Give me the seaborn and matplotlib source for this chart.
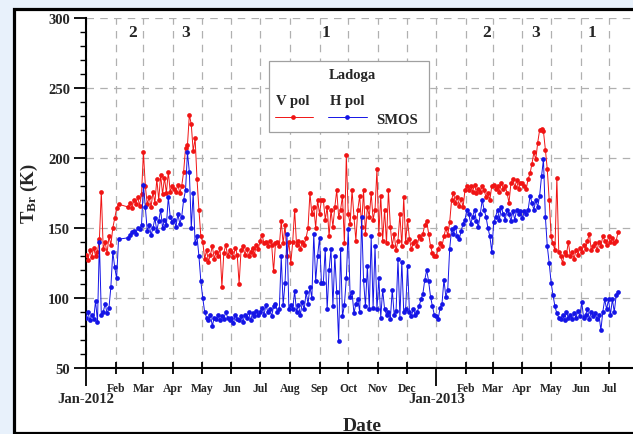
import pandas as pd
import matplotlib
matplotlib.use("Agg")
import matplotlib.pyplot as plt
import matplotlib.dates as mdates
from matplotlib.ticker import MultipleLocator
from matplotlib.patches import Rectangle
import seaborn as sns

# SMOS brightness temperatures over Lake Ladoga (K), one value every second day.
# First block: 2012-01-01 .. 2012-02-04
seg1_start = "2012-01-01"
seg1_v = [131, 127, 134, 129, 136, 130, 133, 142, 176, 135, 140, 132, 144, 138, 150, 157, 164, 167]
seg1_h = [86, 90, 84, 88, 85, 98, 83, 140, 88, 90, 96, 89, 93, 108, 133, 122, 114, 142]

# Second block: 2012-02-14 .. 2013-07-10
seg2_start = "2012-02-14"
seg2_v = [
    165, 168, 164, 170, 167, 172, 166, 174,                              # Feb 2012
    204, 180, 167, 172, 165, 176, 168, 185, 170, 188, 174, 186, 175, 190, 176, 180,  # Mar
    178, 176, 181, 175, 180, 190, 207, 209, 231, 224, 205, 214, 185, 163, 144,       # Apr
    140, 128, 134, 126, 131, 137, 128, 133, 130, 136, 108, 132, 138, 130, 134,       # May
    133, 129, 136, 131, 110, 134, 137, 131, 135, 130, 133, 136, 131, 138, 135,       # Jun
    141, 145, 139, 140, 137, 141, 138, 119, 139, 140, 137, 155, 139, 152, 130, 140,  # Jul
    125, 140, 163, 138, 141, 135, 140, 138, 143, 150, 175, 160, 165, 150, 170,       # Aug
    160, 170, 170, 156, 165, 144, 163, 151, 165, 177, 158, 163, 173, 139, 202,       # Sep
    160, 153, 177, 158, 141, 163, 173, 151, 177, 146, 165, 158, 175, 156, 163, 192,  # Oct
    146, 173, 141, 163, 139, 177, 151, 137, 146, 134, 141, 160, 137, 172, 140,       # Nov
    156, 142, 135, 139, 141, 137, 144, 142, 146, 152, 155, 146, 137, 132, 130,       # Dec
    130, 135, 139, 137, 144, 150, 145, 154, 170, 175, 168, 172, 166, 171, 165, 177,  # Jan 2013
    180, 177, 180, 176, 181, 175, 178, 176, 180, 177, 172, 175, 170, 180,            # Feb
    181, 178, 180, 176, 182, 178, 180, 175, 168, 182, 185, 179, 184, 178, 182,       # Mar
    182, 180, 178, 185, 189, 196, 204, 199, 211, 220, 221, 219, 206, 192, 170,       # Apr
    144, 139, 134, 186, 133, 130, 125, 133, 131, 140, 130, 133, 128, 134, 131, 136,  # May
    133, 138, 135, 141, 146, 134, 137, 139, 134, 140, 137, 144, 141, 138, 144,       # Jun
    140, 143, 139, 141, 147,                                                         # Jul
]
seg2_h = [
    143, 145, 147, 148, 146, 150, 149, 152,
    181, 165, 148, 152, 145, 150, 157, 148, 155, 163, 150, 156, 152, 172, 158, 154,
    156, 151, 160, 153, 158, 170, 177, 204, 190, 150, 175, 139, 144, 130, 112,
    100, 90, 86, 84, 88, 80, 86, 85, 88, 84, 87, 85, 90, 86, 84,
    86, 82, 88, 85, 84, 87, 83, 88, 86, 90, 84, 89, 87, 91, 88,
    90, 93, 88, 95, 90, 92, 87, 94, 96, 90, 92, 130, 95, 111, 146, 92,
    95, 92, 105, 90, 95, 88, 97, 92, 104, 96, 108, 100, 146, 112, 130,
    143, 111, 111, 135, 92, 120, 135, 94, 130, 104, 69, 135, 87, 95, 114,
    149, 101, 104, 89, 96, 99, 90, 158, 113, 94, 123, 92, 144, 93, 137, 92,
    114, 86, 106, 92, 88, 90, 85, 106, 88, 91, 128, 86, 126, 90, 92,
    123, 90, 87, 92, 88, 90, 94, 99, 103, 113, 120, 112, 101, 94, 88,
    87, 85, 93, 96, 113, 101, 106, 135, 149, 146, 151, 144, 142, 148, 153, 156,
    163, 160, 153, 158, 163, 155, 151, 160, 170, 163, 158, 150, 144, 133,
    154, 158, 163, 156, 165, 160, 156, 163, 160, 155, 162, 156, 163, 160, 162,
    157, 162, 160, 163, 173, 168, 163, 170, 165, 173, 187, 199, 158, 137, 125,
    111, 102, 94, 89, 86, 85, 88, 84, 90, 86, 88, 85, 89, 86, 91, 87,
    97, 86, 88, 92, 85, 90, 87, 89, 85, 88, 77, 90, 99, 92, 99,
    88, 99, 90, 102, 104,
]

# Ice-regime labels along the top of the panel
phase_labels = ["2", "3", "1", "2", "3", "1"]
phase_dates = ["2012-02-19", "2012-04-14", "2012-09-08", "2013-02-23", "2013-04-15", "2013-06-13"]

dates = pd.DatetimeIndex(
    list(pd.date_range(seg1_start, periods=len(seg1_v), freq="2D"))
    + list(pd.date_range(seg2_start, periods=len(seg2_v), freq="2D"))
)
df = pd.DataFrame({"date": dates, "V": seg1_v + seg2_v, "H": seg1_h + seg2_h})

sns.set_style("white")
plt.rcParams["font.family"] = ["Liberation Serif", "DejaVu Serif"]
plt.rcParams["font.weight"] = "bold"
plt.rcParams["mathtext.fontset"] = "custom"
plt.rcParams["mathtext.rm"] = "Liberation Serif:bold"
plt.rcParams["mathtext.bf"] = "Liberation Serif:bold"
plt.rcParams["mathtext.it"] = "Liberation Serif:bold:italic"

W, H = 633, 435
fig = plt.figure(figsize=(W / 100, H / 100), dpi=100)
fig.patch.set_facecolor("#e8f1fb")

# white panel with heavy black frame, kept beneath the axes
frame = Rectangle((13.5 / W, 1.5 / H), 1.2, (433.5 - 9.5) / H, transform=fig.transFigure,
                  facecolor="white", edgecolor="black", linewidth=2.3, zorder=-10)
fig.patches.append(frame)

ax_w = 552.2
ax = fig.add_axes([86 / W, 66 / H, ax_w / W, 350 / H])
ax.set_zorder(1)
ax.set_facecolor("none")

red = "#f01414"
blue = "#1414e6"
sns.lineplot(data=df, x="date", y="V", ax=ax, color=red, marker="o", markersize=3.4,
             markeredgewidth=0, linewidth=0.7, estimator=None, legend=False, zorder=3)
sns.lineplot(data=df, x="date", y="H", ax=ax, color=blue, marker="o", markersize=3.4,
             markeredgewidth=0, linewidth=0.7, estimator=None, legend=False, zorder=4)

ax.set_xlim(pd.Timestamp("2012-01-01"), pd.Timestamp("2013-07-31"))
ax.set_ylim(50, 300)

ax.xaxis.set_major_locator(mdates.MonthLocator(bymonth=1))
ax.xaxis.set_major_formatter(mdates.DateFormatter("%b-%Y"))
ax.xaxis.set_minor_locator(mdates.MonthLocator(bymonth=range(2, 13)))
ax.xaxis.set_minor_formatter(mdates.DateFormatter("%b"))
ax.yaxis.set_major_locator(MultipleLocator(50))
ax.yaxis.set_minor_locator(MultipleLocator(10))

grid_kw = dict(color="#b0b0b0", linestyle=(0, (6, 5)), linewidth=0.9)
ax.grid(True, axis="x", which="both", **grid_kw)
ax.grid(True, axis="y", which="major", **grid_kw)
ax.set_axisbelow(True)

for side in ("top", "right"):
    ax.spines[side].set_visible(False)
for side in ("left", "bottom"):
    ax.spines[side].set_linewidth(1.5)
    ax.spines[side].set_color("black")

ax.tick_params(which="both", bottom=True, left=True, top=False, right=False)
ax.tick_params(axis="y", which="major", direction="out", length=8.5, width=1.3,
               labelsize=10.5, pad=3, color="black")
ax.tick_params(axis="y", which="minor", direction="out", length=4.5, width=1.0, color="black")
ax.tick_params(axis="x", which="minor", direction="inout", length=8, width=1.3,
               labelsize=8.4, pad=6, color="black")
ax.tick_params(axis="x", which="major", direction="out", length=13, width=1.3,
               labelsize=10.5, pad=4.5, color="black")

ax.set_ylabel(r"T$_{\mathrm{Br}}$ (K)", fontsize=13.5, fontweight="bold", labelpad=6)
ax.set_xlabel("Date", fontsize=14, fontweight="bold")
ax.xaxis.set_label_coords(0.5, -0.14)

for lab, d in zip(phase_labels, phase_dates):
    ax.text(pd.Timestamp(d), 290, lab, ha="center", va="center", fontsize=12.5,
            fontweight="bold", zorder=5)

# legend box
def fx(px):
    return (px - 86) / ax_w

def fy(py):
    return (369 - py) / 350

box = Rectangle((fx(269), fy(133)), fx(428.7) - fx(269), fy(61.7) - fy(133),
                transform=ax.transAxes, facecolor="white", edgecolor="#a0a0a0",
                linewidth=0.9, zorder=6)
ax.add_patch(box)
ax.text(fx(352), fy(76), "Ladoga", transform=ax.transAxes, ha="center", va="center",
        fontsize=10.5, fontweight="bold", zorder=7)
ax.text(fx(293), fy(102), "V pol", transform=ax.transAxes, ha="center", va="center",
        fontsize=10.5, fontweight="bold", zorder=7)
ax.text(fx(347), fy(102), "H pol", transform=ax.transAxes, ha="center", va="center",
        fontsize=10.5, fontweight="bold", zorder=7)
ax.text(fx(397), fy(120), "SMOS", transform=ax.transAxes, ha="center", va="center",
        fontsize=10.5, fontweight="bold", zorder=7)
ax.plot([fx(275), fx(313)], [fy(118), fy(118)], transform=ax.transAxes, color=red,
        linewidth=0.7, zorder=7)
ax.plot([fx(293)], [fy(118)], transform=ax.transAxes, color=red, marker="o",
        markersize=3.4, markeredgewidth=0, zorder=7)
ax.plot([fx(328), fx(367)], [fy(118), fy(118)], transform=ax.transAxes, color=blue,
        linewidth=0.7, zorder=7)
ax.plot([fx(347)], [fy(118)], transform=ax.transAxes, color=blue, marker="o",
        markersize=3.4, markeredgewidth=0, zorder=7)

fig.savefig("out.png", dpi=100, facecolor=fig.get_facecolor())
